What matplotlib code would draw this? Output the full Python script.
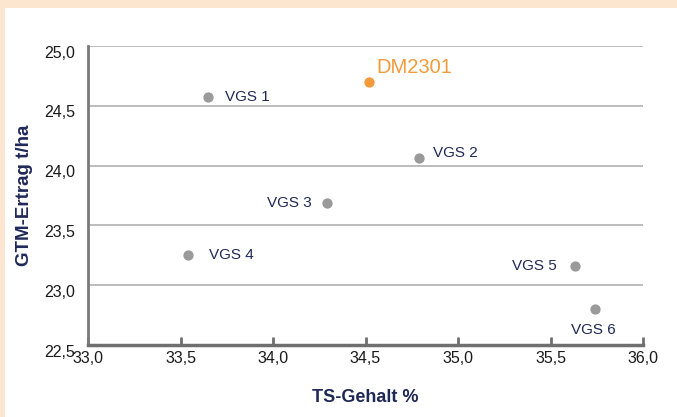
import numpy as np
import matplotlib
matplotlib.use("Agg")
import matplotlib.pyplot as plt
from matplotlib.patches import Rectangle
from matplotlib.ticker import FuncFormatter
from matplotlib.transforms import ScaledTranslation

plt.rcParams['font.family'] = ['Liberation Sans', 'DejaVu Sans']

# Daten
sorten = ['VGS 1', 'DM2301', 'VGS 2', 'VGS 3', 'VGS 4', 'VGS 5', 'VGS 6']
ts_gehalt = [33.65, 34.52, 34.79, 34.29, 33.54, 35.63, 35.74]
gtm_ertrag = [24.57, 24.70, 24.06, 23.69, 23.25, 23.16, 22.80]
x_ticks = [33.0, 33.5, 34.0, 34.5, 35.0, 35.5, 36.0]
y_ticks = [22.5, 23.0, 23.5, 24.0, 24.5, 25.0]

navy = '#1f2857'
grau = '#9a9a9a'
orange = '#f39a3b'
pfirsich = '#fde6d0'

fig = plt.figure(figsize=(6.77, 4.17), dpi=100)
fig.patch.set_facecolor(pfirsich)
# weisse Flaeche (Rahmen oben und links)
fig.add_artist(Rectangle((5 / 677, 0), 1, 1 - 8 / 417, transform=fig.transFigure,
                         facecolor='white', edgecolor='none', zorder=-1))

ax = fig.add_axes([88 / 677, 72 / 417, 555 / 677, 299 / 417])
ax.set_facecolor('white')

for i, name in enumerate(sorten):
    farbe = orange if name == 'DM2301' else grau
    ax.scatter(ts_gehalt[i], gtm_ertrag[i], s=55, color=farbe, zorder=3, linewidths=0)

# Beschriftungen der Punkte (Offsets in Punkten)
offsets = {
    'VGS 1': (12, 0, 'left', 'center', navy, 11, 'normal'),
    'DM2301': (5, 10, 'left', 'center', orange, 14.5, 'medium'),
    'VGS 2': (10, 4, 'left', 'center', navy, 11, 'normal'),
    'VGS 3': (-11, 0, 'right', 'center', navy, 11, 'normal'),
    'VGS 4': (15, 0, 'left', 'center', navy, 11, 'normal'),
    'VGS 5': (-13, 0, 'right', 'center', navy, 11, 'normal'),
    'VGS 6': (-1, -15, 'center', 'center', navy, 11, 'normal'),
}
for i, name in enumerate(sorten):
    dx, dy, ha, va, c, fs, fw = offsets[name]
    ax.annotate(name, (ts_gehalt[i], gtm_ertrag[i]), xytext=(dx, dy),
                textcoords='offset points', ha=ha, va=va, color=c, fontsize=fs,
                fontweight=fw)

ax.set_xlim(33.0, 36.0)
ax.set_ylim(22.5, 25.0)
ax.set_xticks(x_ticks)
ax.set_yticks(y_ticks)
komma = FuncFormatter(lambda v, p: f'{v:.1f}'.replace('.', ','))
ax.xaxis.set_major_formatter(komma)
ax.yaxis.set_major_formatter(komma)

ax.grid(axis='y', color='#b0b0b0', linewidth=1.2)
ax.set_axisbelow(True)
for s in ['top', 'right']:
    ax.spines[s].set_visible(False)
ax.spines['left'].set_color('#7a7a7a')
ax.spines['left'].set_linewidth(2)
ax.spines['bottom'].set_color('#6f6f6f')
ax.spines['bottom'].set_linewidth(2.5)

ax.tick_params(axis='x', direction='in', length=6, width=2, color='#6f6f6f',
               labelsize=11.5, pad=4, labelcolor='#1a1a1a')
ax.tick_params(axis='y', length=0, labelsize=11.5, pad=9, labelcolor='#1a1a1a')
for lab in ax.get_yticklabels():
    lab.set_transform(lab.get_transform() + ScaledTranslation(0, -4 / 72, fig.dpi_scale_trans))

ax.set_xlabel('TS-Gehalt %', fontsize=13, fontweight='bold', color=navy, labelpad=17)
ax.set_ylabel('GTM-Ertrag t/ha', fontsize=13.5, fontweight='bold', color=navy, labelpad=8)

fig.savefig('out.png', dpi=100, facecolor=fig.get_facecolor())
